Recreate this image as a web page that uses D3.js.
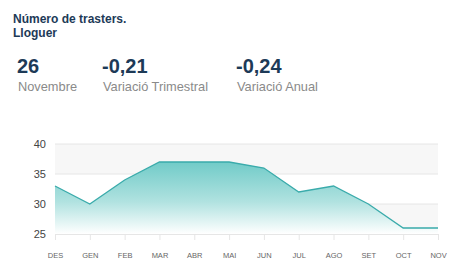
<!DOCTYPE html>
<html>
<head>
<meta charset="utf-8">
<script src="https://cdn.jsdelivr.net/npm/d3@7"></script>
<style>
  body { margin: 0; background: #fff; font-family: "Liberation Sans", Arial, sans-serif; }
</style>
</head>
<body>
<svg id="chart" width="455" height="278"></svg>
<script>
const months = ["DES", "GEN", "FEB", "MAR", "ABR", "MAI", "JUN", "JUL", "AGO", "SET", "OCT", "NOV"];
const values = [33, 30, 34, 37, 37, 37, 36, 32, 33, 30, 26, 26];
const yTicks = [25, 30, 35, 40];
const titleLines = ["Número de trasters.", "Lloguer"];
const kpiValues = ["26", "-0,21", "-0,24"];
const kpiLabels = ["Novembre", "Variació Trimestral", "Variació Anual"];

const svg = d3.select("#chart");
const navy = "#1d3a57";

// header
svg.selectAll(".title")
  .data(titleLines)
  .join("text")
  .attr("x", 13)
  .attr("y", (d, i) => 23 + i * 14)
  .attr("font-size", 12)
  .attr("font-weight", "bold")
  .attr("fill", navy)
  .text((d) => d);

const kpiX = [17, 102, 236];
svg.selectAll(".kpi")
  .data(kpiValues)
  .join("text")
  .attr("x", (d, i) => kpiX[i])
  .attr("y", 73)
  .attr("font-size", 20)
  .attr("font-weight", "bold")
  .attr("fill", navy)
  .text((d) => d);

svg.selectAll(".kpi-label")
  .data(kpiLabels)
  .join("text")
  .attr("x", (d, i) => kpiX[i] + 1)
  .attr("y", 91)
  .attr("font-size", 12.8)
  .attr("fill", "#8a8a8a")
  .text((d) => d);

// chart
const margin = {top: 144, left: 55, right: 17, bottom: 44};
const width = 455 - margin.left - margin.right;
const height = 278 - margin.top - margin.bottom;

const g = svg.append("g").attr("transform", `translate(${margin.left}, ${margin.top})`);

const x = d3.scalePoint().domain(months).range([0, width]);
const y = d3.scaleLinear().domain([25, 40]).range([height, 0]);

// alternating bands
const bands = [[35, 40], [25, 30]];
g.selectAll(".band")
  .data(bands)
  .join("rect")
  .attr("x", 0)
  .attr("width", width)
  .attr("y", (d) => y(d[1]))
  .attr("height", (d) => y(d[0]) - y(d[1]))
  .attr("fill", "#f7f7f7");

// grid
g.selectAll(".grid")
  .data(yTicks)
  .join("line")
  .attr("x1", 0)
  .attr("x2", width)
  .attr("y1", (d) => y(d))
  .attr("y2", (d) => y(d))
  .attr("stroke", "#e6e6e6");

const defs = svg.append("defs");
const grad = defs.append("linearGradient")
  .attr("id", "fill")
  .attr("x1", 0).attr("x2", 0)
  .attr("gradientUnits", "userSpaceOnUse")
  .attr("y1", y(37)).attr("y2", height);
grad.append("stop").attr("offset", 0).attr("stop-color", "#71cbc8");
grad.append("stop").attr("offset", 0.55).attr("stop-color", "#b0e2e0");
grad.append("stop").attr("offset", 1).attr("stop-color", "#ffffff");

const area = d3.area()
  .x((d, i) => x(months[i]))
  .y0(height)
  .y1((d) => y(d));

const line = d3.line()
  .x((d, i) => x(months[i]))
  .y((d) => y(d));

g.append("path").datum(values).attr("d", area).attr("fill", "url(#fill)");
g.append("path").datum(values).attr("d", line)
  .attr("fill", "none")
  .attr("stroke", "#3aabab")
  .attr("stroke-width", 1.3);

// x axis
const xAxis = g.append("g")
  .attr("transform", `translate(0, ${height})`)
  .call(d3.axisBottom(x).tickSize(6).tickPadding(13));
xAxis.select(".domain").attr("stroke", "#e6e6e6");
xAxis.selectAll(".tick line").attr("stroke", "#e6e6e6");
xAxis.selectAll(".tick text")
  .attr("fill", "#666")
  .attr("font-size", 7.5)
  .attr("font-family", "Liberation Sans, Arial, sans-serif");

// y axis
const yAxis = g.append("g")
  .call(d3.axisLeft(y).tickValues(yTicks).tickSize(0).tickPadding(9));
yAxis.select(".domain").remove();
yAxis.selectAll(".tick text")
  .attr("fill", "#444")
  .attr("font-size", 11)
  .attr("font-family", "Liberation Sans, Arial, sans-serif");
</script>
</body>
</html>
